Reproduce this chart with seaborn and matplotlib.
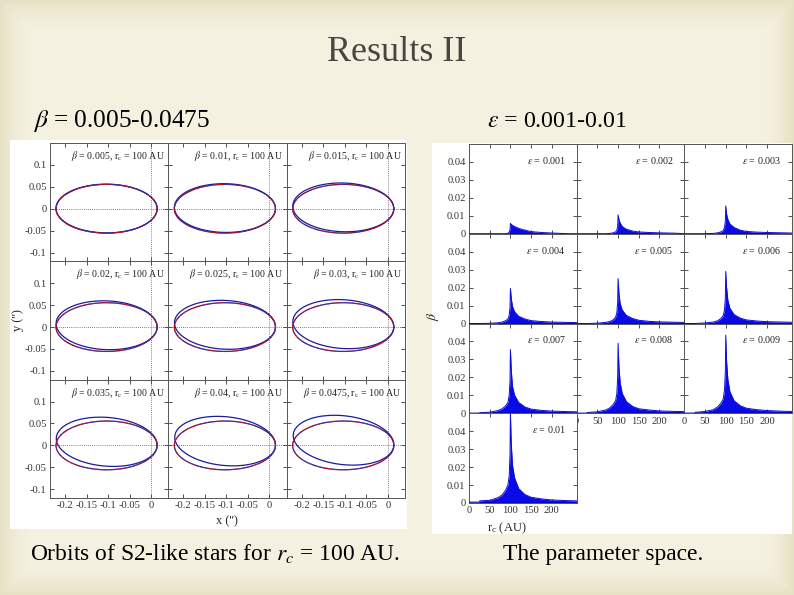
import numpy as np
import pandas as pd
import matplotlib
matplotlib.use("Agg")
import matplotlib.pyplot as plt
import seaborn as sns

sns.set_theme(style="ticks")
plt.rcParams["font.family"] = ["Liberation Serif", "DejaVu Serif"]
plt.rcParams["mathtext.fontset"] = "stix"

# ---------------- data ----------------
TITLE = "Results II"
LEFT_SUB = r"$\beta$ = 0.005-0.0475"
RIGHT_SUB = r"$\varepsilon$ = 0.001-0.01"
LEFT_CAP = r"Orbits of S2-like stars for $r_c$ = 100 AU."
RIGHT_CAP = "The parameter space."

# orbit panels (beta values and read-off precession of the 2nd revolution, rad)
BETA_LABELS = ["0.005", "0.01", "0.015", "0.02", "0.025", "0.03", "0.035", "0.04", "0.0475"]
PRECESSION = [0.005, 0.015, 0.03, 0.04, 0.05, 0.065, 0.08, 0.095, 0.115]
PERI_X = 0.014      # arcsec, pericentre
APO_X = 0.221       # arcsec, apocentre
ORB_XTICKS = [-0.2, -0.15, -0.1, -0.05, 0]
ORB_XLABELS = ["-0.2", "-0.15", "-0.1", "-0.05", "0"]
ORB_YTICKS = [-0.1, -0.05, 0, 0.05, 0.1]
ORB_YLABELS = ["-0.1", "-0.05", "0", "0.05", "0.1"]

# parameter space panels
EPS_LABELS = ["0.001", "0.002", "0.003", "0.004", "0.005",
              "0.006", "0.007", "0.008", "0.009", "0.01"]
RC = [0, 25, 26, 50, 70, 80, 88, 94, 97, 99, 100, 102, 105, 110, 120, 135, 150, 175, 200, 240, 260]
B_E001 = [0, 0, 0, 0, 0, 0, 0, 0.0003, 0.0008, 0.002, 0.0057, 0.0052, 0.0047, 0.004, 0.003, 0.002, 0.0012, 0.0007, 0.0004, 0, 0]
B_E002 = [0, 0, 0, 0, 0, 0.0002, 0.0005, 0.001, 0.002, 0.004, 0.0105, 0.008, 0.006, 0.004, 0.0025, 0.0015, 0.001, 0.0007, 0.0005, 0.0003, 0]
B_E003 = [0, 0, 0, 0, 0.0002, 0.0005, 0.001, 0.0018, 0.0035, 0.007, 0.0155, 0.011, 0.008, 0.0055, 0.0035, 0.002, 0.0013, 0.0009, 0.0007, 0.0005, 0.0004]
B_E004 = [0, 0, 0, 0.0001, 0.0004, 0.0008, 0.0015, 0.0025, 0.0045, 0.009, 0.0195, 0.014, 0.0095, 0.0065, 0.004, 0.0025, 0.0016, 0.0011, 0.0008, 0.0006, 0.0005]
B_E005 = [0, 0, 0, 0.0002, 0.0006, 0.0011, 0.002, 0.0035, 0.006, 0.012, 0.025, 0.017, 0.011, 0.0075, 0.0045, 0.0028, 0.0018, 0.0012, 0.0009, 0.0007, 0.0006]
B_E006 = [0, 0, 0, 0.0003, 0.0008, 0.0015, 0.0027, 0.0045, 0.0075, 0.014, 0.029, 0.02, 0.013, 0.0085, 0.005, 0.003, 0.002, 0.0014, 0.001, 0.0008, 0.0007]
B_E007 = [0, 0, 0.0003, 0.0006, 0.0015, 0.0025, 0.004, 0.006, 0.01, 0.018, 0.0355, 0.024, 0.015, 0.01, 0.006, 0.0035, 0.0023, 0.0016, 0.0012, 0.0009, 0.0008]
B_E008 = [0, 0, 0.0004, 0.0008, 0.0018, 0.003, 0.0048, 0.007, 0.011, 0.02, 0.039, 0.026, 0.017, 0.011, 0.0065, 0.0038, 0.0025, 0.0018, 0.0013, 0.001, 0.0009]
B_E009 = [0, 0, 0.0005, 0.001, 0.002, 0.0035, 0.0055, 0.008, 0.013, 0.023, 0.0435, 0.029, 0.019, 0.012, 0.007, 0.0042, 0.0028, 0.002, 0.0015, 0.0011, 0.001]
B_E010 = [0.0005, 0.0005, 0.0012, 0.0015, 0.003, 0.0045, 0.007, 0.01, 0.015, 0.027, 0.0495, 0.033, 0.021, 0.014, 0.008, 0.0047, 0.0032, 0.0023, 0.0017, 0.0013, 0.0012]
BETA_MAX = [B_E001, B_E002, B_E003, B_E004, B_E005, B_E006, B_E007, B_E008, B_E009, B_E010]
PS_XTICKS = [0, 50, 100, 150, 200]
PS_YTICKS = [0, 0.01, 0.02, 0.03, 0.04]
PS_YLABELS = ["0", "0.01", "0.02", "0.03", "0.04"]

# ---------------- figure ----------------
W, H = 794, 595
fig = plt.figure(figsize=(W / 100, H / 100), dpi=100)


def px_axes(x0, y0, x1, y1, **kw):
    return fig.add_axes([x0 / W, 1 - y1 / H, (x1 - x0) / W, (y1 - y0) / H], **kw)


# background (slide texture)
bg = px_axes(0, 0, W, H, zorder=-10)
yy, xx = np.mgrid[0:H, 0:W]
d = np.minimum.reduce([xx, W - 1 - xx, yy, H - 1 - yy]).astype(float)
edge = np.clip(1 - d / 34.0, 0, 1) ** 1.6
base = np.array([0.962, 0.949, 0.885])
dark = np.array([0.905, 0.88, 0.77])
img = base[None, None, :] * (1 - edge[..., None]) + dark[None, None, :] * edge[..., None]
bg.imshow(img, aspect="auto", extent=[0, W, H, 0])
bg.set_axis_off()

# white image boxes
for (x0, y0, x1, y1) in [(10, 140, 407, 529), (432, 143, 792, 534)]:
    wb = px_axes(x0, y0, x1, y1, zorder=-5)
    wb.set_facecolor("white"); wb.set_xticks([]); wb.set_yticks([])
    for s in wb.spines.values():
        s.set_visible(False)

# texts
fig.text(397 / W, 1 - 61 / H, TITLE, ha="center", va="baseline", fontsize=26, color="#4a4540")
fig.text(33 / W, 1 - 127 / H, LEFT_SUB, ha="left", va="baseline", fontsize=18.3, color="black")
fig.text(487 / W, 1 - 127 / H, RIGHT_SUB, ha="left", va="baseline", fontsize=17.2, color="black")
fig.text(30 / W, 1 - 560 / H, LEFT_CAP, ha="left", va="baseline", fontsize=16.9, color="black")
fig.text(503 / W, 1 - 560 / H, RIGHT_CAP, ha="left", va="baseline", fontsize=16.9, color="black")


def style_axes(ax):
    ax.tick_params(direction="in", length=3, width=0.6, top=True, right=True,
                   labelsize=7.6, pad=2.5, colors="#333")
    for s in ax.spines.values():
        s.set_color("#555")
        s.set_linewidth(0.7)
    ax.set_facecolor("white")
    ax.grid(False)


def orbit_frame(omega):
    a = (PERI_X + APO_X) / 2
    e = (APO_X - PERI_X) / (APO_X + PERI_X)
    p = a * (1 - e ** 2)
    phi = np.linspace(0, 2 * np.pi, 500)
    r = p / (1 + e * np.cos(phi - omega))
    return r * np.cos(phi), r * np.sin(phi)


# orbit grid
OL, OR, OT, OB = 50, 405, 143, 498
cw = (OR - OL) / 3
rh = (OB - OT) / 3
for i, (lbl, prec) in enumerate(zip(BETA_LABELS, PRECESSION)):
    r_, c_ = divmod(i, 3)
    ax = px_axes(OL + c_ * cw, OT + r_ * rh, OL + (c_ + 1) * cw, OT + (r_ + 1) * rh)
    style_axes(ax)
    ax.axhline(0, color="#555", ls=(0, (1, 1.5)), lw=0.6, zorder=1)
    ax.axvline(0, color="#555", ls=(0, (1, 1.5)), lw=0.6, zorder=1)
    xk, yk = orbit_frame(0.0)
    x2, y2 = orbit_frame(-prec)
    blue = pd.DataFrame({"x": np.concatenate([xk, x2]), "y": np.concatenate([yk, y2]),
                         "rev": ["1"] * len(xk) + ["2"] * len(x2)})
    sns.lineplot(data=blue, x="x", y="y", units="rev", estimator=None, sort=False,
                 color="#1c1c9c", lw=0.9, ax=ax, zorder=3)
    sns.lineplot(x=xk, y=yk, sort=False, estimator=None, color="#e02020",
                 lw=0.8, ls=(0, (1, 1)), ax=ax, zorder=4)
    ax.set_xlim(-0.235, 0.04)
    ax.set_ylim(-0.12, 0.15)
    ax.set_xticks(ORB_XTICKS)
    ax.set_yticks(ORB_YTICKS)
    ax.set_xticklabels(ORB_XLABELS if r_ == 2 else [])
    ax.set_yticklabels(ORB_YLABELS if c_ == 0 else [])
    ax.set_xlabel("")
    ax.set_ylabel("")
    ax.text(0.97, 0.95, r"$\beta$ = " + lbl + r", r$_\mathregular{c}$ = 100 AU",
            transform=ax.transAxes, ha="right", va="top", fontsize=7.1, color="#222")

fig.text(18 / W, 1 - 320 / H, "y ('')", rotation=90, ha="center", va="center", fontsize=9)
fig.text(227 / W, 1 - 521 / H, "x ('')", ha="center", va="center", fontsize=9)

# parameter-space grid
PL, PR, PT = 469, 792, 144
pw = (PR - PL) / 3
ph = 89.75
for i, (lbl, vals) in enumerate(zip(EPS_LABELS, BETA_MAX)):
    r_, c_ = divmod(i, 3)
    ax = px_axes(PL + c_ * pw, PT + r_ * ph, PL + (c_ + 1) * pw, PT + (r_ + 1) * ph)
    style_axes(ax)
    df = pd.DataFrame({"rc": RC, "beta": vals})
    ax.fill_between(df["rc"], 0, df["beta"], color="#0a0ae6", lw=0, zorder=2)
    sns.lineplot(data=df, x="rc", y="beta", color="#0a0ae6", lw=0.7, ax=ax, zorder=3)
    ax.axhline(0, color="black", lw=1.0, zorder=4)
    ax.set_xlim(0, 260)
    ax.set_ylim(0, 0.05)
    ax.set_xticks(PS_XTICKS)
    ax.set_yticks(PS_YTICKS)
    show_x = (r_ == 3) or (r_ == 2 and c_ > 0)
    ax.set_xticklabels([str(t) for t in PS_XTICKS] if show_x else [])
    ax.set_yticklabels(PS_YLABELS if c_ == 0 else [])
    ax.set_xlabel("")
    ax.set_ylabel("")
    ax.text(0.9, 0.88, r"$\varepsilon$ = " + lbl, transform=ax.transAxes,
            ha="right", va="top", fontsize=7.2, color="#222")

fig.text(433 / W, 1 - 316 / H, r"$\beta$", rotation=90, ha="center", va="center", fontsize=10)
fig.text(507 / W, 1 - 528 / H, r"r$_\mathregular{c}$ (AU)", ha="center", va="center", fontsize=9)

fig.savefig("out.png", dpi=100)
